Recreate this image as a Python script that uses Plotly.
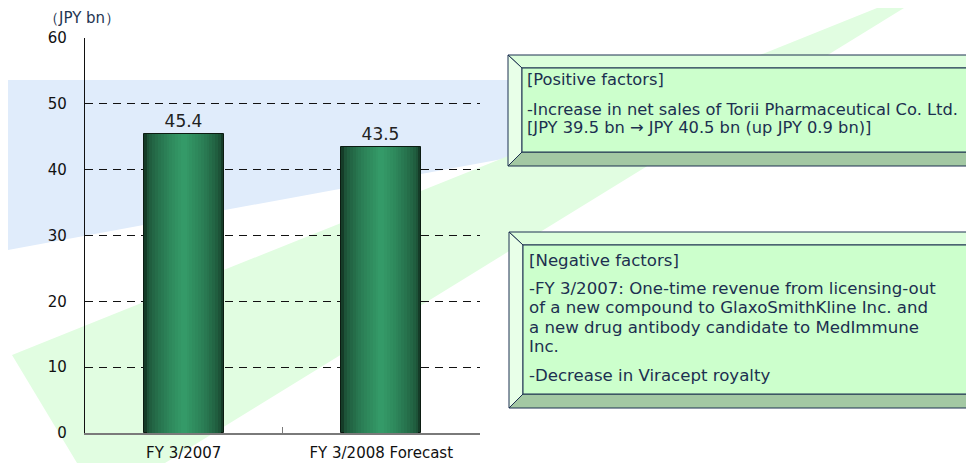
import plotly.graph_objects as go

# data
categories = ["FY 3/2007", "FY 3/2008 Forecast"]
values = [45.4, 43.5]
value_labels = ["45.4", "43.5"]
y_ticks = [0, 10, 20, 30, 40, 50, 60]
unit_label = "（JPY bn）"
positive_lines = ["[Positive factors]",
                  "-Increase in net sales of Torii Pharmaceutical Co. Ltd.",
                  "[JPY 39.5 bn → JPY 40.5 bn (up JPY 0.9 bn)]"]
negative_lines = ["[Negative factors]",
                  "-FY 3/2007: One-time revenue from licensing-out",
                  "of a new compound to GlaxoSmithKline Inc. and",
                  "a new drug antibody candidate to MedImmune",
                  "Inc.",
                  "-Decrease in Viracept royalty"]

W, H = 974, 463
OFF = 8  # page body margin shifts the figure by 8px
FONT = "DejaVu Sans"
NAVY = "#1c3050"


def px(x):
    return (x - OFF) / W


def py(y):
    return 1 - (y - OFF) / H


def path(points):
    return "M " + " L ".join(f"{px(x)},{py(y)}" for x, y in points) + " Z"


def mix(c1, c2, t):
    a = [int(c1[i:i + 2], 16) for i in (1, 3, 5)]
    b = [int(c2[i:i + 2], 16) for i in (1, 3, 5)]
    return "#" + "".join(f"{round(a[k] + (b[k] - a[k]) * t):02x}" for k in range(3))


fig = go.Figure()

# cylinder look: stacked overlay bars, dark edges -> light centre
N = 14
bar_w = 0.405
for i in range(N):
    t = (i / (N - 1)) ** 0.55
    fig.add_trace(go.Bar(
        x=categories, y=values,
        width=bar_w * (1 - i / N),
        marker=dict(color=mix("#153c28", "#349a68", t),
                    line=dict(color="#0c1c12" if i == 0 else mix("#153c28", "#349a68", t),
                              width=1 if i == 0 else 0)),
        text=value_labels if i == 0 else None,
        textposition="outside" if i == 0 else "none",
        textfont=dict(family=FONT, size=17, color="#222222"),
        cliponaxis=False,
        hoverinfo="skip" if i else None,
        showlegend=False,
    ))

shapes = []
# background decorations
shapes.append(dict(type="path", xref="paper", yref="paper", layer="below",
                   path=path([(8, 80), (508, 80), (508, 158), (8, 250)]),
                   fillcolor="#e0ecfb", line=dict(width=0)))
shapes.append(dict(type="path", xref="paper", yref="paper", layer="below",
                   path=path([(12, 355), (897, 0), (917, 0), (165, 463), (77, 463)]),
                   fillcolor="#e1fde1", line=dict(width=0)))


def bevel_box(x0, y0, x1, y1, b):
    ix0, iy0, ix1, iy1 = x0 + b, y0 + b - 1, x1 - b, y1 - b
    edge = dict(color=NAVY, width=1)
    faces = [
        ([(x0, y0), (x1, y0), (ix1, iy0), (ix0, iy0)], "#dcfedc"),
        ([(x0, y0), (ix0, iy0), (ix0, iy1), (x0, y1)], "#e8ffe8"),
        ([(x0, y1), (ix0, iy1), (ix1, iy1), (x1, y1)], "#a3c8a3"),
        ([(x1, y0), (ix1, iy0), (ix1, iy1), (x1, y1)], "#7c9b7c"),
        ([(ix0, iy0), (ix1, iy0), (ix1, iy1), (ix0, iy1)], "#ccffcc"),
    ]
    for pts, col in faces:
        shapes.append(dict(type="path", xref="paper", yref="paper", layer="above",
                           path=path(pts), fillcolor=col, line=edge))


bevel_box(508, 55, 982, 166, 14)
bevel_box(509, 232, 982, 408, 14)

annotations = [dict(text=unit_label, x=px(42), y=py(18), xref="paper", yref="paper",
                    xanchor="left", yanchor="middle", showarrow=False,
                    font=dict(family=FONT, size=15, color="#1f3552"))]

for txt, yy in zip(positive_lines, [79, 110, 128]):
    annotations.append(dict(text=txt, x=px(525), y=py(yy), xref="paper", yref="paper",
                            xanchor="left", yanchor="middle", showarrow=False,
                            font=dict(family=FONT, size=16.3, color=NAVY)))
for txt, yy in zip(negative_lines, [260, 288, 307, 327, 346, 375]):
    annotations.append(dict(text=txt, x=px(527), y=py(yy), xref="paper", yref="paper",
                            xanchor="left", yanchor="middle", showarrow=False,
                            font=dict(family=FONT, size=16.6, color=NAVY)))

fig.update_layout(
    width=W, height=H,
    margin=dict(l=0, r=0, t=0, b=0),
    paper_bgcolor="white", plot_bgcolor="rgba(0,0,0,0)",
    barmode="overlay", bargap=0,
    shapes=shapes, annotations=annotations,
    font=dict(family=FONT, color="#111111"),
    xaxis=dict(domain=[px(85), px(480)], range=[-0.5, 1.5], type="category",
               showline=True, linecolor="#7a7a7a", linewidth=1.5,
               ticks="inside", tickson="boundaries", ticklen=6, tickcolor="#7a7a7a",
               ticklabelstandoff=5,
               tickfont=dict(family=FONT, size=15, color="#111111"),
               showgrid=False, automargin=False, fixedrange=True),
    yaxis=dict(domain=[py(433), py(38)], range=[0, 60], tickvals=y_ticks,
               showline=True, linecolor="#111111", linewidth=1.2,
               ticks="", ticklabelstandoff=14,
               tickfont=dict(family=FONT, size=15, color="#111111"),
               showgrid=True, gridcolor="#111111", gridwidth=1, griddash="8px,6px",
               zeroline=False, automargin=False, fixedrange=True),
)

fig.write_html("out.html")
